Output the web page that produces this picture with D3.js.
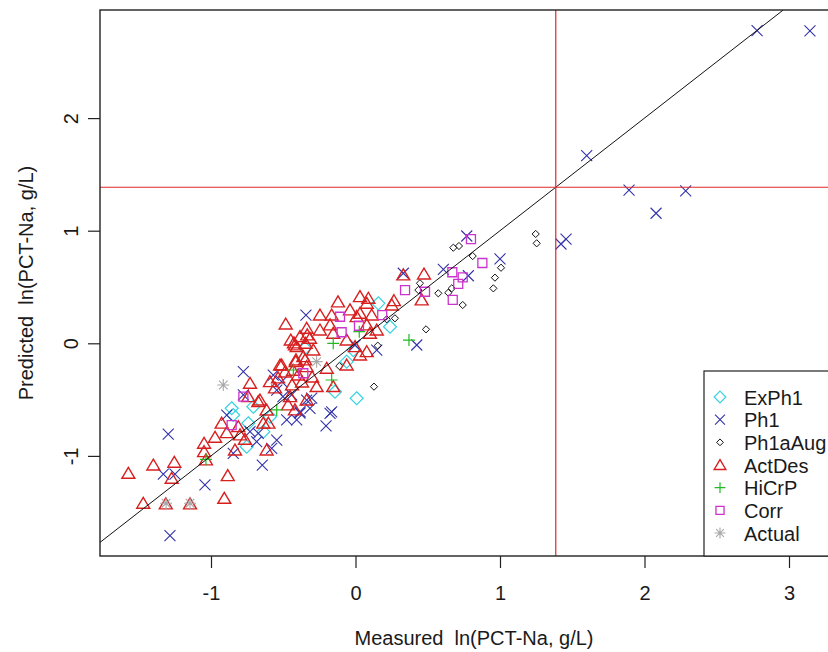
<!DOCTYPE html>
<html>
<head>
<meta charset="utf-8">
<script src="https://cdn.jsdelivr.net/npm/d3@7"></script>
<style>
  html, body { margin: 0; padding: 0; background: #fff; }
  svg { display: block; }
  text { font-family: "Liberation Sans", Arial, sans-serif; fill: #1a1a1a; }
</style>
</head>
<body>
<svg id="chart" width="828" height="652"></svg>
<script>
// Measured vs predicted ln(PCT-Na, g/L), one array per study group
const exPh1 = [[0.158,0.355],[0.239,0.147],[-0.142,-0.430],[0.008,-0.488],[-0.061,-0.163],[-0.015,-0.060],
  [-0.846,-0.637],[-0.707,-0.563],[-0.742,-0.710],[-0.753,-0.918],[-0.857,-0.577],[-0.638,-0.785],
  [-0.592,-0.652],[-0.349,-0.044]];

const ph1 = [[2.779,2.776],[3.145,2.774],[1.600,1.666],[1.893,1.361],[2.285,1.353],[2.080,1.155],
  [1.422,0.882],[1.457,0.926],[0.770,0.953],[1.000,0.749],[0.608,0.657],[0.331,0.622],[0.781,0.600],
  [-0.343,0.251],[0.424,-0.015],[-0.165,-0.610],[0.147,-0.060],[-0.776,-0.252],[-1.296,-0.806],
  [-1.330,-1.161],[-1.249,-1.161],[-1.042,-1.258],[-1.284,-1.709],[-0.645,-1.081],[-0.846,-0.977],
  [-0.684,-0.874],[-0.545,-0.859],[-0.580,-0.933],[-0.891,-0.637],[-0.476,-0.681],[-0.407,-0.681],
  [-0.384,-0.607],[-0.730,-0.785],[-0.673,-0.799],[-0.776,-0.459],[-0.545,-0.415],[-0.511,-0.341],
  [-0.442,-0.459],[-0.569,-0.282],[-0.338,-0.504],[-0.315,-0.577],[-0.176,-0.622],[-0.502,-0.474],
  [-0.384,-0.619],[-0.303,-0.486],[-0.003,-0.015],[-0.204,-0.734]];

const ph1aAug = [[1.247,0.971],[1.254,0.888],[0.677,0.849],[0.716,0.864],[0.811,0.775],[1.007,0.671],
  [0.965,0.583],[0.954,0.488],[0.573,0.444],[0.642,0.449],[0.666,0.488],[0.742,0.340],[0.446,0.533],
  [0.435,0.473],[0.488,0.124],[0.273,0.222],[0.216,0.213],[0.154,-0.021],[-0.112,-0.202],[0.128,-0.385]];

const actDes = [[-1.572,-1.155],[-1.399,-1.081],[-1.254,-1.057],[-1.272,-1.199],[-1.469,-1.421],
  [-1.313,-1.427],[-1.145,-1.427],[-0.884,-1.176],[-0.908,-1.377],[-1.048,-0.888],[-1.048,-0.963],
  [-1.035,-1.036],[-0.972,-0.835],[-0.834,-0.948],[-0.615,-0.948],[-0.765,-0.853],[-0.891,-0.794],
  [-0.926,-0.710],[-0.811,-0.741],[-0.799,-0.814],[-0.638,-0.710],[-0.603,-0.710],[-0.661,-0.504],
  [-0.615,-0.593],[-0.742,-0.474],[-0.673,-0.519],[-0.730,-0.355],[-0.592,-0.341],[-0.536,-0.308],
  [-0.522,-0.193],[-0.453,-0.474],[-0.419,-0.592],[-0.338,-0.504],[-0.483,0.171],[-0.448,0.029],
  [-0.426,0.003],[-0.407,-0.030],[-0.511,-0.193],[-0.414,-0.163],[-0.338,0.133],[-0.334,0.074],
  [-0.419,-0.015],[-0.345,0.000],[-0.412,-0.148],[-0.349,-0.148],[-0.246,0.251],[-0.165,0.251],
  [0.031,0.414],[0.089,0.400],[0.078,0.355],[0.251,0.340],[-0.038,0.296],[0.008,0.236],[0.112,0.251],
  [-0.176,0.163],[-0.154,0.089],[-0.246,0.118],[-0.315,0.044],[0.078,0.163],[0.100,0.089],
  [0.147,0.118],[-0.061,0.029],[-0.003,-0.030],[0.031,-0.104],[0.078,-0.075],[-0.361,-0.119],
  [-0.292,-0.060],[-0.338,-0.208],[-0.199,-0.222],[-0.061,-0.193],[-0.269,-0.385],[-0.154,-0.385],
  [0.331,0.607],[0.474,0.615],[0.458,0.385],[0.266,0.378],[0.031,0.266],[-0.384,0.059],
  [-0.488,-0.255],[-0.398,-0.282],[-0.439,-0.370],[-0.370,-0.344],[-0.557,-0.397],[-0.467,-0.548],
  [-0.121,0.367],[-0.432,-0.240],[-0.300,-0.300]];

const hiCrP = [[-1.035,-1.030],[-0.545,-0.592],[-0.430,-0.237],[0.026,0.103],[-0.154,0.000],
  [-0.165,-0.326],[0.370,0.029]];

const corr = [[0.799,0.926],[0.878,0.713],[0.670,0.631],[0.742,0.586],[0.711,0.527],[0.673,0.385],
  [0.343,0.473],[0.481,0.458],[-0.107,0.236],[0.024,0.156],[-0.096,0.098],[0.185,0.251],
  [-0.361,-0.266],[-0.776,-0.474],[-0.857,-0.726]];

const actual = [[-0.915,-0.370],[-0.269,-0.163],[-1.311,-1.420],[-1.145,-1.420]];

const groupNames = ["ExPh1", "Ph1", "Ph1aAug", "ActDes", "HiCrP", "Corr", "Actual"];
const xTicks = [-1, 0, 1, 2, 3];
const yTicks = [-1, 0, 1, 2];
const cutoff = 1.386;   // ln(4 g/L) reference on both axes
const xTitle = "Measured  ln(PCT-Na, g/L)";
const yTitle = "Predicted  ln(PCT-Na, g/L)";

// ---- layout
const box = { left: 100, top: 10, right: 848, bottom: 556 };
const x = d3.scaleLinear().domain([-1, 3]).range([211, 789]);
const y = d3.scaleLinear().domain([-1, 2]).range([455.9, 118.1]);
const tickText = d => String(d);   // plain hyphen-minus labels

const svg = d3.select("#chart");

svg.append("defs").append("clipPath").attr("id", "plotClip")
  .append("rect")
  .attr("x", box.left).attr("y", box.top)
  .attr("width", box.right - box.left).attr("height", box.bottom - box.top);

// ---- symbol shapes (base-graphics style plotting characters)
function shapePath(kind, s) {
  switch (kind) {
    case "diamond": return `M0,${-s}L${s},0L0,${s}L${-s},0Z`;
    case "cross":   return `M${-s},${-s}L${s},${s}M${-s},${s}L${s},${-s}`;
    case "triangle": return `M0,${-s * 1.0}L${s * 1.08},${s * 0.82}L${-s * 1.08},${s * 0.82}Z`;
    case "square":  return `M${-s},${-s}H${s}V${s}H${-s}Z`;
    case "plus":    return `M${-s},0H${s}M0,${-s}V${s}`;
    case "star": {
      const d = s * 0.72;
      return `M${-s},0H${s}M0,${-s}V${s}M${-d},${-d}L${d},${d}M${-d},${d}L${d},${-d}`;
    }
  }
}

const groups = [
  { name: groupNames[0], data: exPh1,   kind: "diamond",  size: 6.5, color: "#36d3df", width: 1.2 },
  { name: groupNames[1], data: ph1,     kind: "cross",    size: 5.5, color: "#3232ac", width: 1.1 },
  { name: groupNames[2], data: ph1aAug, kind: "diamond",  size: 3.6, color: "#111111", width: 1.0 },
  { name: groupNames[3], data: actDes,  kind: "triangle", size: 6.0, color: "#d81f1f", width: 1.4 },
  { name: groupNames[4], data: hiCrP,   kind: "plus",     size: 6.0, color: "#20bb20", width: 1.2 },
  { name: groupNames[5], data: corr,    kind: "square",   size: 4.5, color: "#cc33cc", width: 1.3 },
  { name: groupNames[6], data: actual,  kind: "star",     size: 6.0, color: "#a8a8a8", width: 1.1 }
];

// ---- points
const plot = svg.append("g").attr("clip-path", "url(#plotClip)");
groups.forEach(g => {
  plot.append("g").selectAll("path")
    .data(g.data)
    .join("path")
    .attr("transform", d => `translate(${x(d[0])},${y(d[1])})`)
    .attr("d", shapePath(g.kind, g.size))
    .attr("fill", "none")
    .attr("stroke", g.color)
    .attr("stroke-width", g.width);
});

// ---- reference lines: 1:1 and the ln(4) cut-offs
const lo = x.invert(box.left), hi = y.invert(box.top);
plot.append("line")
  .attr("x1", x(lo)).attr("y1", y(lo))
  .attr("x2", x(hi)).attr("y2", y(hi))
  .attr("stroke", "#111").attr("stroke-width", 1.0);
plot.append("line")
  .attr("x1", box.left).attr("x2", box.right)
  .attr("y1", y(cutoff)).attr("y2", y(cutoff))
  .attr("stroke", "#e02828").attr("stroke-width", 1.2);
plot.append("line")
  .attr("x1", x(cutoff)).attr("x2", x(cutoff))
  .attr("y1", box.top).attr("y2", box.bottom)
  .attr("stroke", "#e02828").attr("stroke-width", 1.2);

// ---- axes
const xAxis = svg.append("g")
  .attr("transform", `translate(0,${box.bottom})`)
  .call(d3.axisBottom(x).tickValues(xTicks).tickSize(12).tickFormat(tickText));
xAxis.select(".domain").remove();
xAxis.selectAll("line").attr("stroke", "#222").attr("stroke-width", 1.2);
xAxis.selectAll("text")
  .attr("y", 44).attr("dy", 0)
  .style("font-size", "20px").attr("fill", "#1a1a1a");

const yAxis = svg.append("g")
  .attr("transform", `translate(${box.left},0)`)
  .call(d3.axisLeft(y).tickValues(yTicks).tickSize(12).tickFormat(tickText));
yAxis.select(".domain").remove();
yAxis.selectAll("line").attr("stroke", "#222").attr("stroke-width", 1.2);
yAxis.selectAll("text")
  .attr("x", 0).attr("dy", 0)
  .attr("transform", "translate(-22,0) rotate(-90)")
  .attr("text-anchor", "middle")
  .style("font-size", "20px").attr("fill", "#1a1a1a");

// plot frame
svg.append("rect")
  .attr("x", box.left).attr("y", box.top)
  .attr("width", box.right - box.left).attr("height", box.bottom - box.top)
  .attr("fill", "none").attr("stroke", "#222").attr("stroke-width", 1.4);

// axis titles
svg.append("text")
  .attr("x", (box.left + box.right) / 2).attr("y", 645)
  .attr("text-anchor", "middle").style("font-size", "20px")
  .style("white-space", "pre").text(xTitle);
svg.append("text")
  .attr("transform", `translate(33,${(box.top + box.bottom) / 2}) rotate(-90)`)
  .attr("text-anchor", "middle").style("font-size", "20px")
  .style("white-space", "pre").text(yTitle);

// ---- legend (bottom right, inside the frame)
const legend = svg.append("g");
legend.append("rect")
  .attr("x", 704).attr("y", 371)
  .attr("width", box.right - 704).attr("height", box.bottom - 371)
  .attr("fill", "#fff").attr("stroke", "#222").attr("stroke-width", 1.2);
const rowStep = 22.67;
groups.forEach((g, i) => {
  const cy = 397 + i * rowStep;
  legend.append("path")
    .attr("transform", `translate(720,${cy})`)
    .attr("d", shapePath(g.kind, g.kind === "diamond" && i === 2 ? 3.4 : g.size * 0.9))
    .attr("fill", "none").attr("stroke", g.color).attr("stroke-width", g.width);
  legend.append("text")
    .attr("x", 744).attr("y", cy + 7.5)
    .style("font-size", "20px").text(g.name);
});
</script>
</body>
</html>
